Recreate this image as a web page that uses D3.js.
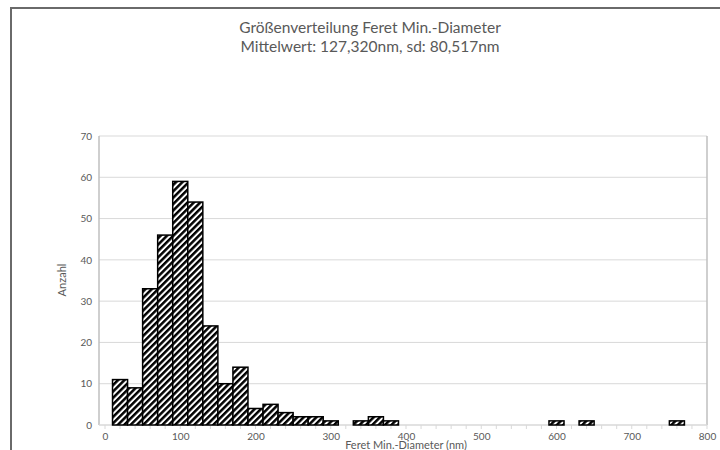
<!DOCTYPE html>
<html>
<head>
<meta charset="utf-8">
<script src="https://cdn.jsdelivr.net/npm/d3@7"></script>
<style>
  html, body { margin: 0; padding: 0; background: #fff; }
  svg { display: block; }
  text { font-family: Lato, "Open Sans", "Liberation Sans", sans-serif; fill: #595959; }
</style>
</head>
<body>
<svg id="chart" width="720" height="450"></svg>
<script>
// Histogram of Feret min. diameter, bins of 20 nm (lower edge of each non-empty bin)
const binStarts = [10, 30, 50, 70, 90, 110, 130, 150, 170, 190, 210, 230, 250, 270, 290, 330, 350, 370, 590, 630, 750];
const counts    = [11,  9, 33, 46, 59,  54,  24,  10,  14,   4,   5,   3,   2,   2,   1,   1,   2,   1,   1,   1,   1];
const binWidth = 20;

const xTicks = [0, 100, 200, 300, 400, 500, 600, 700, 800];
const yTicks = [0, 10, 20, 30, 40, 50, 60, 70];

const titleLines = ["Größenverteilung Feret Min.-Diameter", "Mittelwert: 127,320nm, sd: 80,517nm"];
const xTitle = "Feret Min.-Diameter (nm)";
const yTitle = "Anzahl";

const bins = binStarts.map((s, i) => ({ x0: s, x1: s + binWidth, n: counts[i] }));

const svg = d3.select("#chart");

// diagonal hatch fill
const defs = svg.append("defs");
const pat = defs.append("pattern")
  .attr("id", "hatch")
  .attr("patternUnits", "userSpaceOnUse")
  .attr("width", 4.5).attr("height", 4.5)
  .attr("patternTransform", "rotate(45)");
pat.append("rect").attr("width", 4.5).attr("height", 4.5).attr("fill", "#fff");
pat.append("rect").attr("width", 2.5).attr("height", 4.5).attr("fill", "#000");

// outer chart frame
svg.append("path")
  .attr("d", "M11,450 V8 H720")
  .attr("fill", "none")
  .attr("stroke", "#6a6a6a")
  .attr("stroke-width", 2);

const x = d3.scaleLinear().domain([0, 800]).range([105, 707]);
const y = d3.scaleLinear().domain([0, 70]).range([425, 136]);

const tickFont = "Lato, 'Open Sans', sans-serif";

// horizontal gridlines
svg.append("g")
  .selectAll("line")
  .data(yTicks.filter(d => d > 0))
  .join("line")
  .attr("x1", x(0) - 6).attr("x2", x(800))
  .attr("y1", d => y(d)).attr("y2", d => y(d))
  .attr("stroke", "#d9d9d9").attr("stroke-width", 1);

// y axis
const yAxis = svg.append("g")
  .attr("transform", `translate(${x(0) - 6},0)`)
  .call(d3.axisLeft(y).tickValues(yTicks).tickSize(0).tickPadding(7));
yAxis.select(".domain").remove();
yAxis.selectAll("text").attr("font-size", 10).attr("fill", "#595959")
  .style("font-family", tickFont);

svg.append("line")
  .attr("x1", x(0) - 6).attr("x2", x(0) - 6)
  .attr("y1", y(70)).attr("y2", y(0))
  .attr("stroke", "#bfbfbf").attr("stroke-width", 1.5);
svg.append("line")
  .attr("x1", x(800)).attr("x2", x(800))
  .attr("y1", y(70)).attr("y2", y(0))
  .attr("stroke", "#bfbfbf").attr("stroke-width", 1.5);

// x axis
const xAxis = svg.append("g")
  .attr("transform", `translate(0,${y(0)})`)
  .call(d3.axisBottom(x).tickValues(xTicks).tickSize(0).tickPadding(8));
xAxis.select(".domain").remove();
xAxis.selectAll("text").attr("font-size", 10).attr("fill", "#595959")
  .style("font-family", tickFont);

svg.append("g")
  .selectAll("line")
  .data(d3.range(0, 801, 20))
  .join("line")
  .attr("x1", d => x(d)).attr("x2", d => x(d))
  .attr("y1", y(0)).attr("y2", y(0) + 4)
  .attr("stroke", "#d9d9d9").attr("stroke-width", 1);

svg.append("line")
  .attr("x1", x(0) - 6).attr("x2", x(800))
  .attr("y1", y(0)).attr("y2", y(0))
  .attr("stroke", "#d9d9d9").attr("stroke-width", 1.5);

// bars
svg.append("g")
  .selectAll("rect")
  .data(bins)
  .join("rect")
  .attr("x", d => x(d.x0))
  .attr("y", d => y(d.n))
  .attr("width", d => x(d.x1) - x(d.x0))
  .attr("height", d => y(0) - y(d.n))
  .attr("fill", "url(#hatch)")
  .attr("stroke", "#000")
  .attr("stroke-width", 1.5);

// titles
svg.append("text")
  .attr("x", 370).attr("y", 33)
  .attr("text-anchor", "middle")
  .attr("font-size", 15.5)
  .attr("fill", "#555")
  .text(titleLines[0]);
svg.append("text")
  .attr("x", 370).attr("y", 52)
  .attr("text-anchor", "middle")
  .attr("font-size", 15.5)
  .attr("fill", "#555")
  .text(titleLines[1]);

svg.append("text")
  .attr("x", 406).attr("y", 449)
  .attr("text-anchor", "middle")
  .attr("font-size", 11)
  .text(xTitle);

svg.append("text")
  .attr("transform", `translate(66,280) rotate(-90)`)
  .attr("text-anchor", "middle")
  .attr("font-size", 11)
  .text(yTitle);
</script>
</body>
</html>
